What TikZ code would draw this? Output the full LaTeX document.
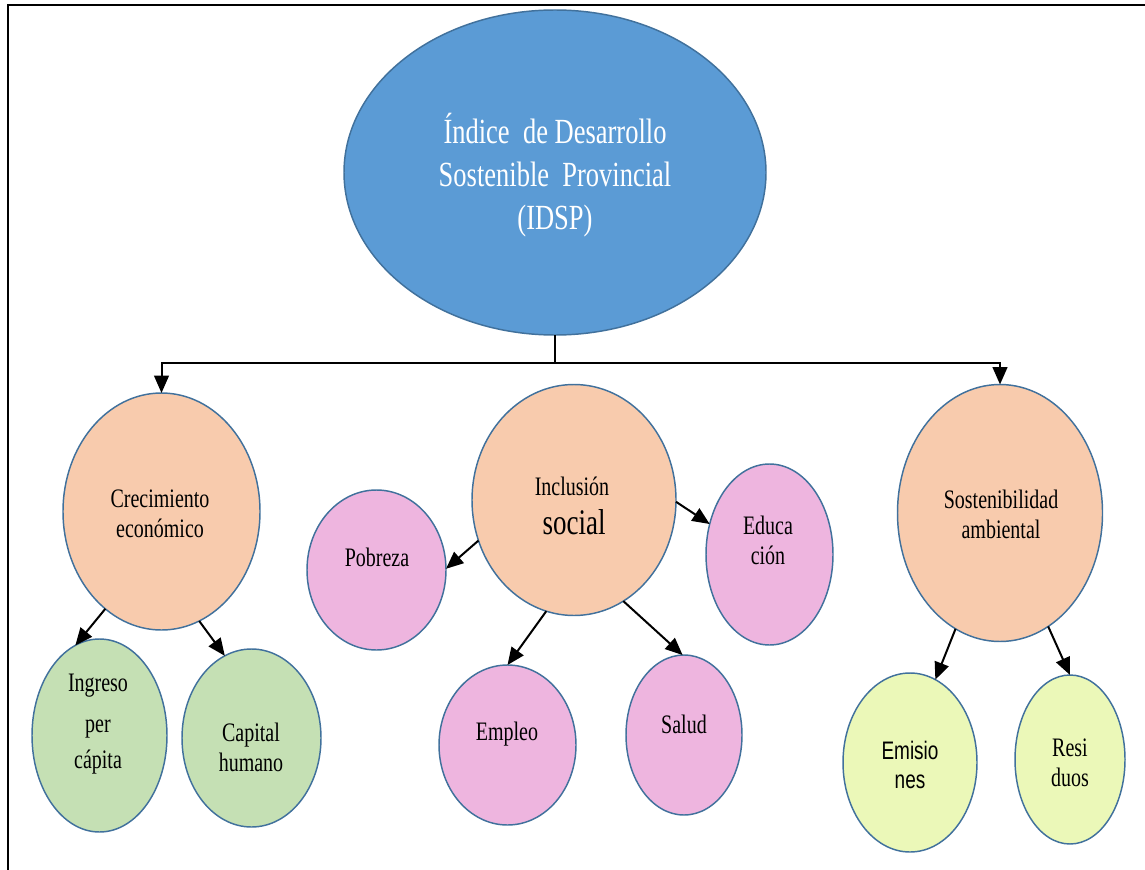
\documentclass[tikz,border=0pt]{standalone}
\usepackage{fontspec}
\setmainfont{Liberation Serif}[FakeStretch=0.75]
\newfontfamily\arialn{Liberation Sans}[FakeStretch=0.75]
\usetikzlibrary{shapes.geometric,arrows.meta}
\definecolor{tblue}{HTML}{5B9BD5}
\definecolor{tborder}{HTML}{41719C}
\definecolor{tpeach}{HTML}{F8CBAD}
\definecolor{tpink}{HTML}{EEB5DF}
\definecolor{tgreen}{HTML}{C5E0B4}
\definecolor{tlime}{HTML}{EBF8B8}
\tikzset{
  oval/.style={ellipse, draw=tborder, line width=1.1pt, inner sep=0pt, outer sep=0pt},
  txt/.style={align=center, inner sep=0pt, font=\fontsize{20}{22.5}\selectfont},
  arr/.style={line width=1.5pt, -{Triangle[length=13pt,width=11pt]}},
  bus/.style={line width=1.5pt},
  frame/.style={line width=1.9pt}
}
\begin{document}
\begin{tikzpicture}[x=0.75pt,y=-0.75pt]
\useasboundingbox (0,0) rectangle (1145,870);
% frame
\coordinate (f1) at (8,870);
\coordinate (f2) at (8,5);
\coordinate (f3) at (1145,5);
\draw[frame] (f1) -- (f2) -- (f3);
% nodes
\node[oval, fill=tblue, minimum width=316.5pt, minimum height=243.75pt] (title) at (555,172.5) {};
\node[oval, fill=tpeach, minimum width=147.75pt, minimum height=177.75pt] (crec) at (161.5,511.5) {};
\node[oval, fill=tpeach, minimum width=153pt, minimum height=173.25pt] (incl) at (574,500) {};
\node[oval, fill=tpeach, minimum width=153.75pt, minimum height=192.75pt] (sost) at (1000,513) {};
\node[oval, fill=tpink, minimum width=104.25pt, minimum height=120pt] (pob) at (376.5,570) {};
\node[oval, fill=tpink, minimum width=95.25pt, minimum height=135.75pt] (educ) at (769.5,554.5) {};
\node[oval, fill=tpink, minimum width=102.75pt, minimum height=120pt] (emp) at (507.5,745) {};
\node[oval, fill=tpink, minimum width=87pt, minimum height=120pt] (sal) at (684,735) {};
\node[oval, fill=tgreen, minimum width=101.25pt, minimum height=144.75pt] (ing) at (99.5,735.5) {};
\node[oval, fill=tgreen, minimum width=104.25pt, minimum height=133.5pt] (cap) at (251.5,738) {};
\node[oval, fill=tlime, minimum width=100.5pt, minimum height=134.25pt] (emis) at (910,762.5) {};
\node[oval, fill=tlime, minimum width=82.5pt, minimum height=126.75pt] (res) at (1070,759.5) {};
% texts
\node[txt, text=white, font=\fontsize{26.5}{32}\selectfont] (ttitle) at (555,175) {Índice\ \ de Desarrollo\\Sostenible\ \ Provincial\\(IDSP)};
\node[txt] (tcrec) at (160,514) {Crecimiento\\económico};
\node[txt] (tincl1) at (572,486) {Inclusión};
\node[txt, font=\fontsize{27}{30}\selectfont] (tincl2) at (574,522) {social};
\node[txt] (tsost) at (1001,514) {Sostenibilidad\\ambiental};
\node[txt] (tpob) at (377,557) {Pobreza};
\node[txt] (teduc) at (768,540) {Educa\\ción};
\node[txt] (temp) at (507,734) {Empleo};
\node[txt] (tsal) at (684,724) {Salud};
\node[txt] (ting) at (98,724) {Ingreso\\[8pt]per\\[4.5pt]cápita};
\node[txt] (tcap) at (251,747) {Capital\\humano};
\node[txt, font=\arialn\fontsize{19}{22}\selectfont] (temis) at (910,765) {Emisio\\nes};
\node[txt] (tres) at (1070,763) {Resi\\duos};
% top connectors
\coordinate (busc) at (555,363);
\draw[bus] (title.south) -- (busc);
\draw[arr] (busc) -| (crec.north);
\draw[arr] (busc) -| (sost.north);
% arrows
\draw[arr] (crec.240.5) -- (ing.105.5);
\draw[arr] (crec.289) -- (cap.108.3);
\draw[arr] (incl.203.7) -- (pob.1);
\draw[arr] (incl.-1) -- (educ.153);
\draw[arr] (incl.256) -- (emp.90);
\draw[arr] (incl.296.6) -- (sal.91);
\draw[arr] (sost.249) -- (emis.73.2);
\draw[arr] (sost.293.1) -- (res.90);
\end{tikzpicture}
\end{document}
